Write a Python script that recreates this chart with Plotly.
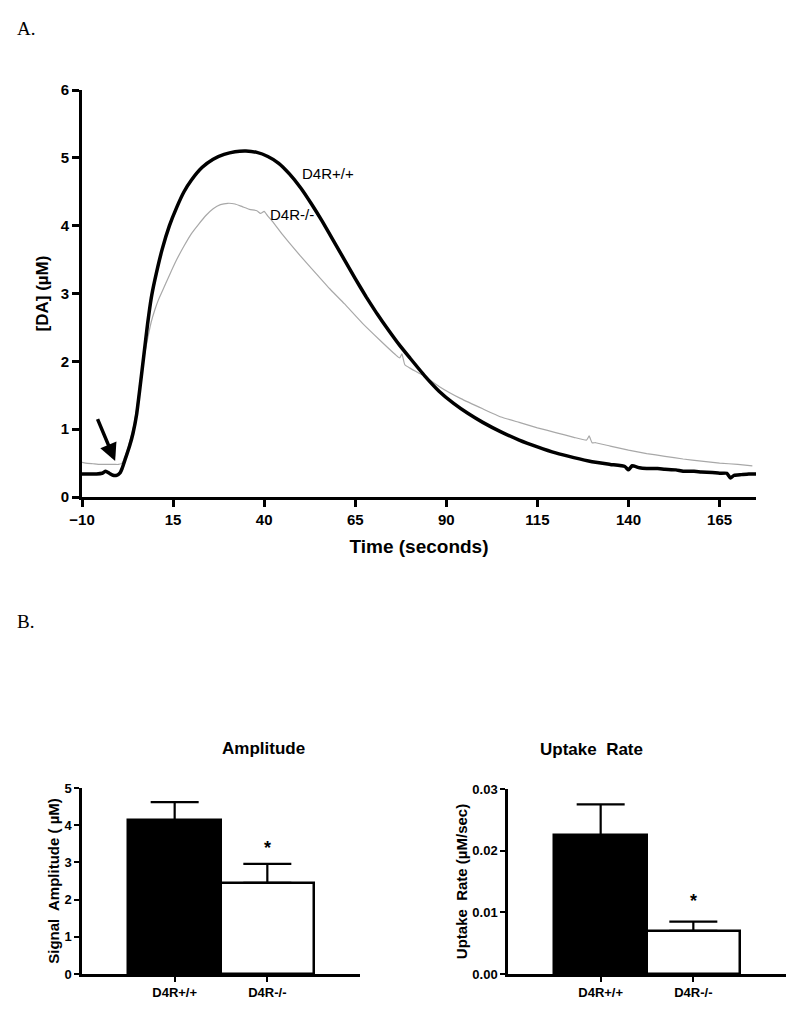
import plotly.graph_objects as go

# ---------------- Panel A data ----------------
t_wt = [-10, -8, -6, -4.5, -3.5, -2.5, -1.5, -0.5, 0.5, 1, 2, 3, 4, 5, 6, 7, 8, 9, 10,
        12, 14, 16, 18, 20, 23, 26, 29, 32, 35, 38, 41, 44, 47, 50, 53, 56, 59,
        62, 65, 68, 71, 74, 77, 80, 84, 88, 92, 96, 100, 105, 110, 115, 120, 125,
        130, 135, 139, 140, 141, 143, 145, 148, 150, 153, 155, 158, 160, 163, 165,
        167, 168, 169, 171, 173, 175]
da_wt = [0.34, 0.34, 0.34, 0.35, 0.38, 0.35, 0.32, 0.32, 0.36, 0.42, 0.58, 0.74, 0.94, 1.22, 1.65, 2.1, 2.55, 2.93, 3.2,
         3.65, 4.0, 4.27, 4.5, 4.67, 4.86, 4.98, 5.05, 5.09, 5.1, 5.08, 5.02, 4.92, 4.76, 4.56, 4.32, 4.06, 3.78,
         3.5, 3.22, 2.95, 2.7, 2.47, 2.25, 2.05, 1.79, 1.56, 1.38, 1.23, 1.1, 0.96, 0.84, 0.74, 0.65, 0.58,
         0.52, 0.48, 0.45, 0.40, 0.46, 0.43, 0.42, 0.42, 0.41, 0.40, 0.38, 0.38, 0.37, 0.36, 0.35,
         0.35, 0.28, 0.32, 0.33, 0.34, 0.34]

t_ko = [-10, -9, -7, -5, -3, -1, 0, 1, 2, 3, 4, 5, 6, 7, 8, 9, 10, 11, 12, 14, 16, 18, 20, 22, 24,
        26, 28, 30, 32, 34, 36, 38, 39, 40, 41, 42, 45, 50, 55, 58, 62, 67, 72, 76, 77.2,
        77.8, 78.6, 80, 84, 88, 94, 100, 105, 110, 115, 120, 125, 128.5, 129.2, 130, 131,
        135, 140, 145, 150, 155, 160, 165, 170, 174]
da_ko = [0.51, 0.50, 0.49, 0.48, 0.48, 0.48, 0.48, 0.5, 0.62, 0.8, 1.0, 1.3, 1.7, 2.05, 2.33, 2.58, 2.76, 2.91, 3.03, 3.27, 3.5, 3.7, 3.88, 4.02, 4.15,
         4.25, 4.31, 4.33, 4.32, 4.28, 4.24, 4.22, 4.18, 4.21, 4.14, 4.08, 3.87, 3.55, 3.25, 3.07, 2.85, 2.56, 2.3, 2.1, 2.05,
         2.11, 1.95, 1.9, 1.78, 1.63, 1.45, 1.3, 1.18, 1.1, 1.02, 0.95, 0.88, 0.84, 0.90, 0.80, 0.80,
         0.75, 0.69, 0.64, 0.60, 0.56, 0.53, 0.50, 0.48, 0.46]

x_ticks_a = [-10, 15, 40, 65, 90, 115, 140, 165]

# ---------------- Panel B data ----------------
groups = ["D4R+/+", "D4R-/-"]
group_pos = [1, 2]
amplitude = [4.13, 2.45]
amplitude_err = [0.49, 0.51]
uptake = [0.0225, 0.0070]
uptake_err = [0.0050, 0.0015]

FONT = "Liberation Sans, Arial, sans-serif"
OFF = 8  # default page margin of the html body
W, H = 800 - OFF, 1011 - OFF

fig = go.Figure()

fig.add_trace(go.Scatter(x=t_ko, y=da_ko, mode="lines", name="D4R-/-",
                         line=dict(color="#a8a8a8", width=1.2, shape="spline", smoothing=0.4),
                         xaxis="x", yaxis="y", showlegend=False))
fig.add_trace(go.Scatter(x=t_wt, y=da_wt, mode="lines", name="D4R+/+",
                         line=dict(color="black", width=3.5, shape="spline", smoothing=0.4),
                         xaxis="x", yaxis="y", showlegend=False))

fig.add_trace(go.Bar(x=group_pos, y=amplitude, width=[1, 1],
                     marker=dict(color=["black", "white"], line=dict(color="black", width=2.5)),
                     error_y=dict(type="data", symmetric=False, array=amplitude_err,
                                  arrayminus=[0, 0], width=24, thickness=2.2, color="black"),
                     xaxis="x2", yaxis="y2", showlegend=False))
fig.add_trace(go.Bar(x=group_pos, y=uptake, width=[1, 1],
                     marker=dict(color=["black", "white"], line=dict(color="black", width=2.5)),
                     error_y=dict(type="data", symmetric=False, array=uptake_err,
                                  arrayminus=[0, 0], width=24, thickness=2.2, color="black"),
                     xaxis="x3", yaxis="y3", showlegend=False))

def px_x(p):
    return (p - OFF) / W

def px_y(p):
    return 1 - (p - OFF) / H

bold = dict(family=FONT, color="black", weight="bold")

axis_common = dict(showgrid=False, zeroline=False, showline=True, linecolor="black",
                   ticks="outside", tickcolor="black", automargin=False)

fig.update_layout(
    width=W, height=H, margin=dict(l=0, r=0, t=0, b=0),
    paper_bgcolor="white", plot_bgcolor="white",
    font=dict(family=FONT, color="black"),
    bargap=0,
    xaxis=dict(domain=[px_x(82), px_x(756)], range=[-10, 175], tickvals=x_ticks_a,
               linewidth=3, ticklen=7, tickwidth=3, anchor="y",
               tickfont=dict(size=15, **bold),
               title=dict(text="Time (seconds)", font=dict(size=19, **bold), standoff=13),
               **axis_common),
    yaxis=dict(domain=[px_y(497), px_y(90)], range=[0, 6], tickvals=[0, 1, 2, 3, 4, 5, 6],
               linewidth=3, ticklen=7, tickwidth=3, anchor="x",
               tickfont=dict(size=15, **bold),
               title=dict(text="[DA] (µM)", font=dict(size=17, **bold), standoff=8),
               **axis_common),
    xaxis2=dict(domain=[px_x(82), px_x(360)], range=[0, 3], tickvals=group_pos, ticktext=groups,
                linewidth=2.5, ticklen=5, tickwidth=2, anchor="y2",
                tickfont=dict(size=13, **bold), **axis_common),
    yaxis2=dict(domain=[px_y(974), px_y(788)], range=[0, 5], tickvals=[0, 1, 2, 3, 4, 5],
                linewidth=2.5, ticklen=5, tickwidth=2, anchor="x2",
                tickfont=dict(size=13, **bold),
                title=dict(text="Signal\u00a0 Amplitude (\u00a0µM)", font=dict(size=15, **bold), standoff=2),
                **axis_common),
    xaxis3=dict(domain=[px_x(508), px_x(786)], range=[0, 3], tickvals=group_pos, ticktext=groups,
                linewidth=2.5, ticklen=5, tickwidth=2, anchor="y3",
                tickfont=dict(size=13, **bold), **axis_common),
    yaxis3=dict(domain=[px_y(974), px_y(789)], range=[0, 0.03], tickvals=[0, 0.01, 0.02, 0.03],
                ticktext=["0.00", "0.01", "0.02", "0.03"],
                linewidth=2.5, ticklen=5, tickwidth=2, anchor="x3",
                tickfont=dict(size=13, **bold),
                title=dict(text="Uptake\u00a0 Rate (µM/sec)", font=dict(size=15, **bold), standoff=2),
                **axis_common),
)

annotations = [
    dict(text="A.", x=px_x(15), y=px_y(28), xref="paper", yref="paper", xanchor="left", yanchor="middle",
         showarrow=False, font=dict(family="Liberation Serif, Times New Roman, serif", size=19, color="black")),
    dict(text="B.", x=px_x(15), y=px_y(621), xref="paper", yref="paper", xanchor="left", yanchor="middle",
         showarrow=False, font=dict(family="Liberation Serif, Times New Roman, serif", size=19, color="black")),
    dict(text="D4R+/+", x=57.6, y=4.77, xref="x", yref="y", showarrow=False,
         font=dict(family=FONT, size=15, color="black")),
    dict(text="D4R-/-", x=47.7, y=4.16, xref="x", yref="y", showarrow=False,
         font=dict(family=FONT, size=15, color="black")),
    dict(text="", x=-0.9, y=0.53, ax=-5.9, ay=1.17, xref="x", yref="y", axref="x", ayref="y",
         showarrow=True, arrowhead=2, arrowsize=1, arrowwidth=3.5, arrowcolor="black"),
    dict(text="Amplitude", x=px_x(220), y=px_y(760), xref="paper", yref="paper", showarrow=False,
         font=dict(size=17, **bold)),
    dict(text="Uptake\u00a0 Rate", x=px_x(645), y=px_y(761), xref="paper", yref="paper", showarrow=False,
         font=dict(size=17, **bold)),
    dict(text="*", x=2, y=3.40, xref="x2", yref="y2", showarrow=False, font=dict(size=18, **bold)),
    dict(text="*", x=2, y=0.0118, xref="x3", yref="y3", showarrow=False, font=dict(size=18, **bold)),
]
fig.update_layout(annotations=annotations)

fig.write_html("out.html")
